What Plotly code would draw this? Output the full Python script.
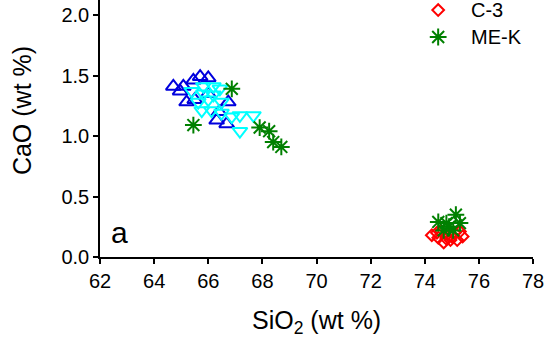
import plotly.graph_objects as go

# SiO2 / CaO compositions (wt %) for each sample group
blue_sio2 = [64.71, 65.08, 64.96, 65.45, 65.70, 66.00, 65.20, 66.74, 66.68, 66.31, 66.00, 65.50, 66.40]
blue_cao = [1.41, 1.41, 1.37, 1.46, 1.49, 1.48, 1.28, 1.28, 1.10, 1.13, 1.35, 1.30, 1.20]

cyan_sio2 = [65.39, 65.82, 66.19, 66.43, 65.82, 66.19, 65.63, 66.49, 65.76, 66.12, 66.49, 66.87, 67.17, 67.67, 67.17, 66.00]
cyan_cao = [1.37, 1.41, 1.41, 1.39, 1.35, 1.34, 1.28, 1.28, 1.21, 1.21, 1.19, 1.16, 1.17, 1.17, 1.04, 1.30]

c3_sio2 = [74.26, 74.50, 74.70, 74.95, 75.20, 75.40, 74.45, 74.85, 75.10, 74.60, 75.00, 75.30, 74.80]
c3_cao = [0.18, 0.16, 0.12, 0.14, 0.14, 0.17, 0.20, 0.19, 0.20, 0.21, 0.17, 0.21, 0.15]

mek_sio2 = [66.87, 65.45, 67.90, 68.25, 68.40, 68.70, 75.15, 74.50, 74.80, 75.30, 74.70, 75.05, 74.90]
mek_cao = [1.39, 1.09, 1.07, 1.04, 0.95, 0.91, 0.35, 0.29, 0.28, 0.28, 0.22, 0.22, 0.25]

x_ticks = [62, 64, 66, 68, 70, 72, 74, 76, 78]
y_ticks = [0.0, 0.5, 1.0, 1.5, 2.0]

# legend entries (key column / text column / row positions, as fractions of the plot box)
legend_names = ["C-3", "ME-K"]
legend_key_x = 0.781
legend_text_x = 0.853
legend_rows_y = [0.961, 0.856]

FONT = "Liberation Sans, Arial, sans-serif"

c3_marker = dict(symbol="diamond-open", size=9, color="#ff0000", line=dict(width=2, color="#ff0000"))
mek_marker = dict(symbol="asterisk-open", size=14, color="#008000", line=dict(width=2, color="#008000"))

fig = go.Figure()
fig.add_trace(go.Scatter(x=blue_sio2, y=blue_cao, mode="markers", name="group 1",
                         marker=dict(symbol="triangle-up-open", size=13, color="#0000dd",
                                     line=dict(width=2, color="#0000dd"))))
fig.add_trace(go.Scatter(x=cyan_sio2, y=cyan_cao, mode="markers", name="group 2",
                         marker=dict(symbol="triangle-down-open", size=13, color="#00ffff",
                                     line=dict(width=2, color="#00ffff"))))
fig.add_trace(go.Scatter(x=c3_sio2, y=c3_cao, mode="markers", name=legend_names[0], marker=c3_marker))
fig.add_trace(go.Scatter(x=mek_sio2, y=mek_cao, mode="markers", name=legend_names[1], marker=mek_marker))

# legend keys, drawn on a hidden unit-range overlay axis pair
for yk, mk, nm in zip(legend_rows_y, [c3_marker, mek_marker], legend_names):
    fig.add_trace(go.Scatter(x=[legend_key_x], y=[yk], mode="markers", marker=mk, name=nm,
                             xaxis="x2", yaxis="y3", hoverinfo="skip"))

axis_common = dict(showgrid=False, zeroline=False, showline=True, linecolor="black", linewidth=1.5,
                   ticks="outside", ticklen=5, tickwidth=1.5, tickcolor="black",
                   tickfont=dict(family=FONT, size=20, color="black"))

annotations = [
    dict(text="SiO<sub>2</sub> (wt %)", xref="paper", yref="paper", x=0.501, y=-0.253,
         xanchor="center", yanchor="middle", showarrow=False,
         font=dict(family=FONT, size=25, color="black")),
    dict(text="CaO (wt %)", xref="paper", yref="paper", x=-0.180, y=0.568, textangle=-90,
         xanchor="center", yanchor="middle", showarrow=False,
         font=dict(family=FONT, size=25, color="black")),
    dict(text="a", xref="paper", yref="paper", x=0.0455, y=0.097,
         xanchor="center", yanchor="middle", showarrow=False,
         font=dict(family=FONT, size=30, color="black")),
]
for yk, nm in zip(legend_rows_y, legend_names):
    annotations.append(dict(text=nm, xref="paper", yref="paper", x=legend_text_x, y=yk,
                            xanchor="left", yanchor="middle", showarrow=False,
                            font=dict(family=FONT, size=20, color="black")))

fig.update_layout(
    width=550, height=342,
    margin=dict(l=100, r=17, t=0, b=85),
    paper_bgcolor="white", plot_bgcolor="white",
    font=dict(family=FONT, color="black"),
    showlegend=False,
    xaxis=dict(range=[62, 78], tickvals=x_ticks, **axis_common),
    yaxis=dict(range=[0, 2.124], tickvals=y_ticks, tickformat=".1f", **axis_common),
    yaxis2=dict(overlaying="y", side="right", range=[0, 2.124], tickvals=y_ticks,
                showgrid=False, zeroline=False, showline=True, linecolor="black", linewidth=1.5,
                ticks="inside", ticklen=5, tickwidth=1.5, tickcolor="black", showticklabels=False),
    xaxis2=dict(overlaying="x", range=[0, 1], visible=False),
    yaxis3=dict(overlaying="y", range=[0, 1], visible=False),
    annotations=annotations,
)

fig.write_html("out.html")
